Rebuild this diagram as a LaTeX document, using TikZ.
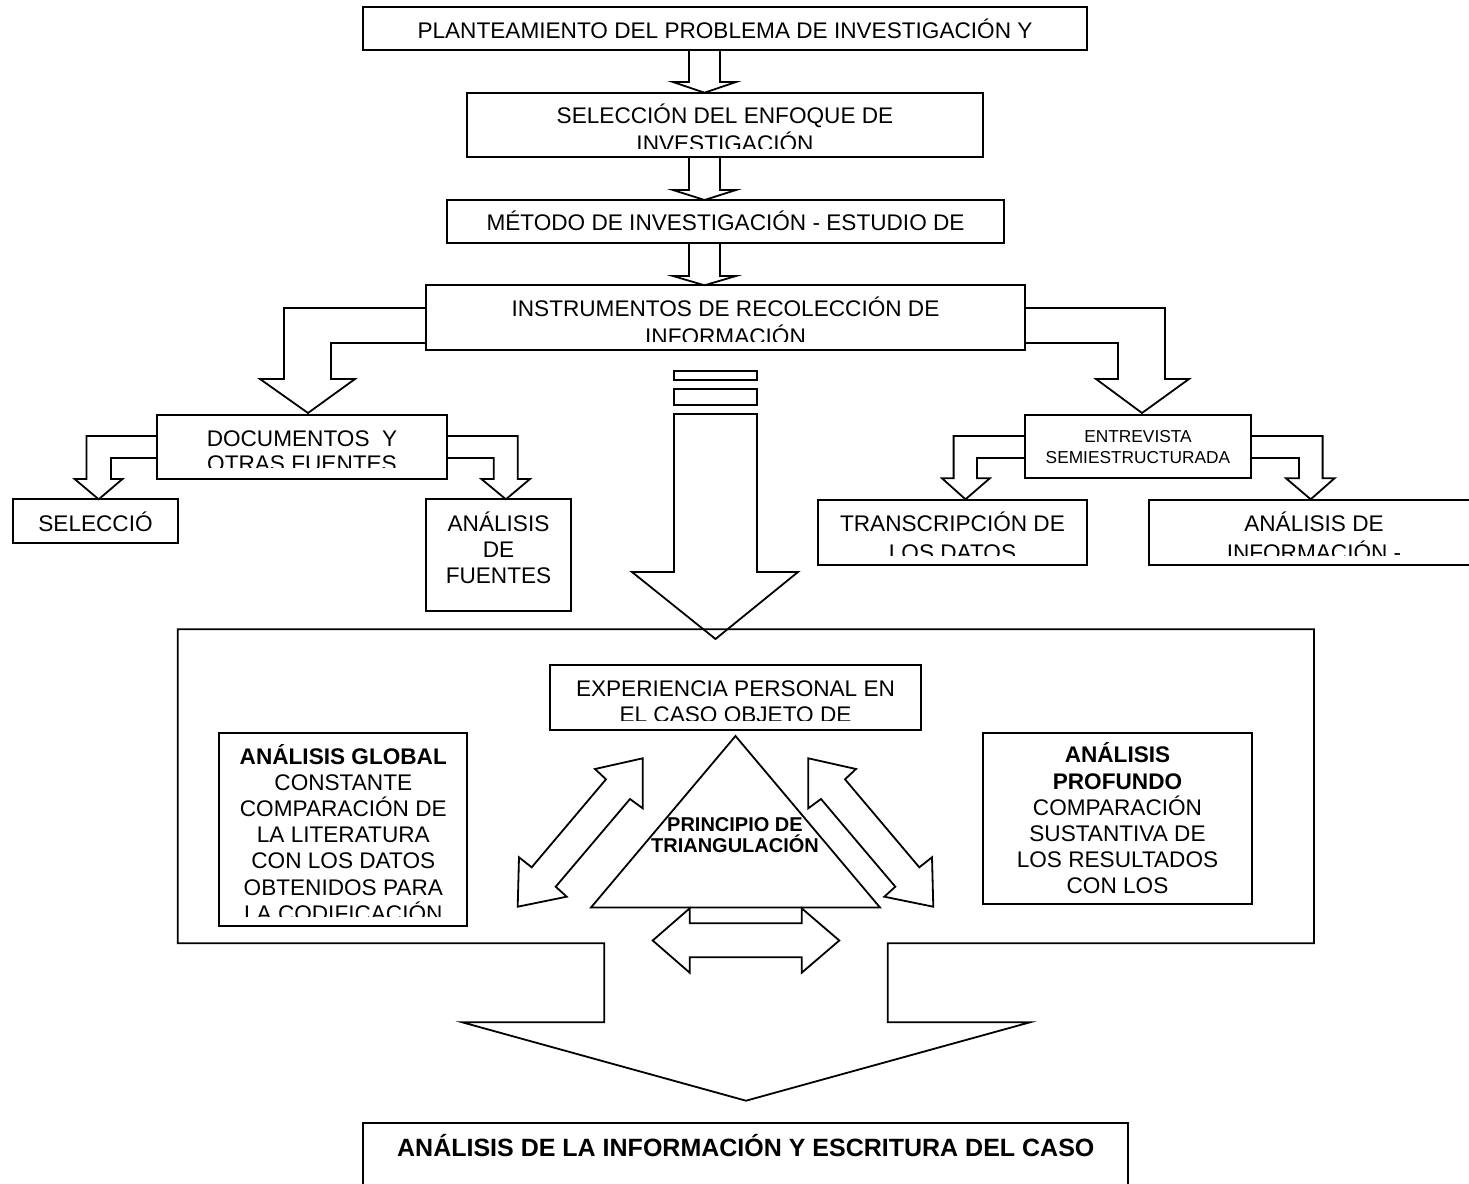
\documentclass[tikz,border=0pt]{standalone}
\usepackage{fontspec}
\setmainfont{Liberation Sans}
\usetikzlibrary{calc}

\newcommand{\caja}[5]{%
  \node[caja, minimum width={0.5pt*(#4-#2)}, minimum height={0.5pt*(#5-#3)}]
    (#1) at ({(#2+#4)/2},{(#3+#5)/2}) {};}
\newcommand{\lineas}[1]{\vtop{\halign{\hfil##\hfil\cr#1\crcr}}}
\newcommand{\dobleflecha}{%
  \draw[bloque] (642.7,758.3) -- (595,769) -- (606,779.3) -- (531.7,867.3) -- (519,857.3)
    -- (517.7,906.7) -- (566.7,896.7) -- (555.7,886.7) -- (630,799) -- (642.7,808.3) -- cycle;}

\tikzset{
  caja/.style={draw, line width=0.9pt, inner sep=0pt, outer sep=0pt},
  bloque/.style={draw, line width=0.9pt, line join=miter},
  texto/.style={inner sep=0pt, anchor=base, font=\fontsize{11.3}{14.15}\selectfont},
  textocorto/.style={texto, font=\fontsize{11.3}{12.5}\selectfont},
  textolista/.style={texto, font=\fontsize{11.3}{13.05}\selectfont},
  textochico/.style={texto, font=\fontsize{8.65}{10.55}\selectfont},
  textotri/.style={texto, font=\fontsize{10}{10.8}\selectfont\bfseries},
  textofinal/.style={texto, font=\fontsize{12.5}{15}\selectfont\bfseries},
}

\begin{document}
\begin{tikzpicture}[x=0.5pt, y=-0.5pt]
  \useasboundingbox (0,0) rectangle (1469,1184);

  % cajas
  \caja{plan}{363}{7}{1087}{50}
  \caja{enfo}{467}{93}{983}{157}
  \caja{meto}{447}{200}{1004}{243}
  \caja{inst}{426}{285}{1025}{350}
  \caja{docu}{157}{415}{447}{479}
  \caja{sele}{12.6}{499.3}{178.3}{543.3}
  \caja{fuen}{426}{499.3}{571}{611}
  \caja{entr}{1025}{415}{1251}{478.3}
  \caja{tran}{818}{500}{1087}{565}
  \caja{info}{1149}{500}{1479}{565}
  \caja{expe}{550}{665}{921}{730}
  \caja{glob}{219.3}{733}{467.3}{926}
  \caja{prof}{982.7}{733.3}{1252}{904.3}
  \caja{fina}{363.3}{1122.7}{1127.7}{1200}

  % textos
  \node[texto] (planT) at (725,38) {PLANTEAMIENTO DEL PROBLEMA DE INVESTIGACIÓN Y};
  \node[texto] (metoT) at (725.5,230) {MÉTODO DE INVESTIGACIÓN - ESTUDIO DE};
  \node[texto] (seleT) at (95.5,531) {SELECCIÓ};
  \node[textolista] (fuenT) at (498.5,531.5) {\lineas{ANÁLISIS\cr DE\cr FUENTES}};
  \node[textochico] (entrT) at (1138,442.4) {\lineas{ENTREVISTA\cr SEMIESTRUCTURADA}};
  \node[textolista] (profT) at (1117.5,762.9)
    {\lineas{\textbf{ANÁLISIS}\cr\textbf{PROFUNDO}\cr COMPARACIÓN\cr SUSTANTIVA DE\cr LOS RESULTADOS\cr CON LOS}};
  \node[textotri] (triT) at (735,831) {\lineas{PRINCIPIO DE\cr TRIANGULACIÓN}};
  \node[textofinal] (finaT) at (745.8,1156) {ANÁLISIS DE LA INFORMACIÓN Y ESCRITURA DEL CASO};

  % textos cortados por la caja
  \begin{scope}
    \clip (467,93) rectangle (983,148.3);
    \node[texto] (enfoT) at (725,123) {\lineas{SELECCIÓN DEL ENFOQUE DE\cr INVESTIGACIÓN}};
  \end{scope}
  \begin{scope}
    \clip (426,285) rectangle (1025,341.5);
    \node[texto] (instT) at (725.5,316.3) {\lineas{INSTRUMENTOS DE RECOLECCIÓN DE\cr INFORMACIÓN}};
  \end{scope}
  \begin{scope}
    \clip (157,415) rectangle (447,467.7);
    \node[textocorto] (docuT) at (302,446.2) {\lineas{DOCUMENTOS\ \ Y\cr OTRAS FUENTES}};
  \end{scope}
  \begin{scope}
    \clip (818,500) rectangle (1087,555);
    \node[texto] (tranT) at (952.5,531.8) {\lineas{TRANSCRIPCIÓN DE\cr LOS DATOS}};
  \end{scope}
  \begin{scope}
    \clip (1149,500) rectangle (1479,555);
    \node[texto] (infoT) at (1314,531.7) {\lineas{ANÁLISIS DE\cr INFORMACIÓN -}};
  \end{scope}
  \begin{scope}
    \clip (550,665) rectangle (921,720);
    \node[textolista] (expeT) at (735.5,696.3) {\lineas{EXPERIENCIA PERSONAL EN\cr EL CASO OBJETO DE}};
  \end{scope}
  \begin{scope}
    \clip (219.3,733) rectangle (467.3,916.7);
    \node[textolista] (globT) at (343.3,764.5)
      {\lineas{\textbf{ANÁLISIS GLOBAL}\cr CONSTANTE\cr COMPARACIÓN DE\cr LA LITERATURA\cr CON LOS DATOS\cr OBTENIDOS PARA\cr LA CODIFICACIÓN}};
  \end{scope}

  % flechas verticales
  \foreach \ya/\yb/\yc in {50/82/92.7, 157/190/200, 243/276/285.3}
    \draw[bloque] (689,\ya) -- (689,\yb) -- (673,\yb) -- (704.5,\yc) -- (736,\yb) -- (720,\yb) -- (720,\ya);

  % flechas desde instrumentos
  \draw[bloque] (426,308) -- (284,308) -- (284,379) -- (260,379) -- (308,413) -- (355,379) -- (331,379) -- (331,343) -- (426,343);
  \draw[bloque] (1025,308) -- (1165,308) -- (1165,379) -- (1189,379) -- (1142,413) -- (1096,379) -- (1118,379) -- (1118,343) -- (1025,343);

  % flechas desde documentos
  \draw[bloque] (157,436) -- (86.5,436) -- (86.5,479) -- (74.6,479) -- (98.7,499.3) -- (122.5,479) -- (111,479) -- (111,458) -- (157,458);
  \draw[bloque] (447,436) -- (517.8,436) -- (517.8,479) -- (530,479) -- (505.9,499.3) -- (481.4,479) -- (493.7,479) -- (493.7,458) -- (447,458);

  % flechas desde entrevista
  \draw[bloque] (1025,436) -- (953.6,436) -- (953.6,478.3) -- (942,478.3) -- (965.5,499.3) -- (989.8,478.3) -- (977,478.3) -- (977,458) -- (1025,458);
  \draw[bloque] (1251,436) -- (1322.6,436) -- (1322.6,478.3) -- (1334.5,478.3) -- (1310.7,499.3) -- (1286,478.3) -- (1299,478.3) -- (1299,458) -- (1251,458);

  % flecha central
  \draw[bloque] (674,371) rectangle (757,380);
  \draw[bloque] (674,389) rectangle (757,405);
  \draw[bloque] (674,414) -- (674,572) -- (632,572) -- (715.5,639) -- (798,572) -- (757,572) -- (757,414) -- cycle;

  % marco y flecha final
  \draw[bloque] (604.3,943.3) -- (177.7,943.3) -- (177.7,629.3) -- (1314,629.3) -- (1314,943.3) -- (887.7,943.3)
    -- (887.7,1022.3) -- (1030,1022.3) -- (746,1100.7) -- (462.3,1022.3) -- (604.3,1022.3) -- cycle;

  % triangulo
  \draw[bloque] (735.5,736) -- (880,907.5) -- (591,907.5) -- cycle;

  % flechas dobles
  \dobleflecha
  \begin{scope}[shift={(1451,0)}, xscale=-1]
    \dobleflecha
  \end{scope}
  \draw[bloque] (689.7,908.3) -- (652.7,940.5) -- (689.7,972.7) -- (689.7,957.3) -- (801.7,957.3) -- (801.7,972.7)
    -- (839.3,940.5) -- (801.7,908.3) -- (801.7,923.3) -- (689.7,923.3) -- cycle;
\end{tikzpicture}
\end{document}
